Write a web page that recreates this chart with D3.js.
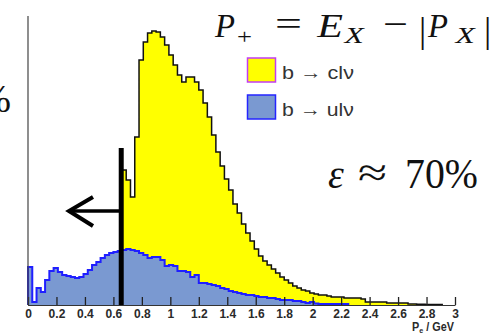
<!DOCTYPE html>
<html>
<head>
<meta charset="utf-8">
<script src="https://cdn.jsdelivr.net/npm/d3@7/dist/d3.min.js"></script>
<style>
  html, body { margin: 0; padding: 0; background: #fff; }
  svg { display: block; }
</style>
</head>
<body>
<svg id="chart" width="498" height="335"></svg>
<script>
// Histogram binning of P+ (GeV): 100 bins from 0 to 3
const pRange = [0, 3];
const nBins = 100;

// b -> c l nu (yellow), bins 0..99
const charmCounts = [
  0, 0, 0, 0, 0, 0, 0, 0, 0, 0,
  0, 0, 0, 0, 0, 0, 0, 0, 0, 0,
  0, 0, 135, 125, 108, 168, 245, 263, 272, 274,
  273, 268, 260, 250, 240, 230, 223, 228, 228, 223,
  215, 202, 188, 170, 153, 139, 126, 115, 101, 92,
  81, 72, 64, 56, 49, 44, 40, 36, 32, 28,
  25, 22, 19, 17, 15, 14, 12, 11, 10, 10,
  9, 8, 8, 8, 7, 7, 7, 7, 6, 3,
  3, 3, 3, 3, 2, 2, 2, 2, 2, 1,
  1, 0.8, 0.8, 0.6, 0.6, 0.5, 0.5, 0, 0, 0
];

// b -> u l nu (blue), bins 0..99
const upCounts = [
  38, 3, 17, 13, 25, 34, 37, 33, 30, 29,
  28, 27, 28, 31, 35, 40, 43, 47, 50, 52,
  53, 54, 55, 56, 55, 54, 52, 50, 47, 48,
  48, 45, 39, 40, 39, 34, 34, 33, 28, 30,
  22, 22, 21, 20, 19, 17, 16, 14, 13, 12,
  11, 10, 10, 9, 8, 8, 7, 7, 6, 5,
  5, 5, 4, 4, 3, 2, 3, 1.5, 1, 1,
  1, 1, 1, 1, 1, 0, 0, 0, 0, 0,
  0, 0, 0, 0, 0, 0, 0, 0, 0, 0,
  0, 0, 0, 0, 0, 0, 0, 0, 0, 0
];

const xTicks = [0, 0.2, 0.4, 0.6, 0.8, 1, 1.2, 1.4, 1.6, 1.8, 2, 2.2, 2.4, 2.6, 2.8, 3];
const legendLabels = ["b \u2192 cl\u03bd", "b \u2192 ul\u03bd"];
const cutValue = 0.655;      // P+ cut
const efficiencyText = "70%";

const svg = d3.select("#chart");
const margin = { left: 28, right: 43, top: 16, bottom: 30 };
const W = 498, H = 335;

const x = d3.scaleLinear().domain(pRange).range([margin.left, W - margin.right]);
const y = d3.scaleLinear().domain([0, 289]).range([H - margin.bottom, margin.top]);
const binW = (pRange[1] - pRange[0]) / nBins;

// Build step outline points, trimmed after the last filled bin
function stepPoints(counts) {
  let last = counts.length - 1;
  while (last > 0 && counts[last] === 0) last--;
  const pts = [[pRange[0], 0]];
  for (let i = 0; i <= last; i++) pts.push([pRange[0] + i * binW, counts[i]]);
  pts.push([pRange[0] + (last + 1) * binW, 0]);
  return pts;
}

// Stretch a text block horizontally so it spans a given width
function fitWidth(sel, x0, baseline, width) {
  const bb = sel.node().getBBox();
  const s = width / bb.width;
  sel.attr("x", 0).attr("y", 0)
    .attr("transform", `translate(${x0 - bb.x * s},${baseline}) scale(${s},1)`);
}

const area = d3.area()
  .x(d => x(d[0])).y0(y(0)).y1(d => y(d[1]))
  .curve(d3.curveStepAfter);
const line = d3.line()
  .x(d => x(d[0])).y(d => y(d[1]))
  .curve(d3.curveStepAfter);

const charmPts = stepPoints(charmCounts);
const upPts = stepPoints(upCounts);

// yellow histogram
svg.append("path").attr("d", area(charmPts)).attr("fill", "#ffff00");
svg.append("path").attr("d", line(charmPts)).attr("fill", "none")
  .attr("stroke", "#111").attr("stroke-width", 1.5);

// blue histogram drawn over it
svg.append("path").attr("d", area(upPts)).attr("fill", "#7a99d1");
svg.append("path").attr("d", line(upPts)).attr("fill", "none")
  .attr("stroke", "#1f1fff").attr("stroke-width", 2);

// axes
const xAxis = d3.axisBottom(x).tickValues(xTicks).tickSize(0).tickPadding(4)
  .tickFormat(d => String(d));
const gx = svg.append("g").attr("transform", `translate(0,${y(0)})`).call(xAxis);
gx.select(".domain").attr("stroke", "#333").attr("stroke-width", 1.2);
gx.selectAll(".tick text")
  .attr("font-family", "Liberation Sans, Arial, sans-serif")
  .attr("font-size", 12).attr("font-weight", "bold").attr("fill", "#2a2a2a");
gx.selectAll(".tick").append("line")
  .attr("y1", 0).attr("y2", -8).attr("stroke", "#222").attr("stroke-width", 1.3);

svg.append("line")
  .attr("x1", x(0)).attr("x2", x(0)).attr("y1", margin.top).attr("y2", y(0))
  .attr("stroke", "#444").attr("stroke-width", 1.2);

// axis title
const xt = svg.append("text")
  .attr("font-family", "Liberation Sans, Arial, sans-serif")
  .attr("font-size", 12).attr("font-weight", "bold").attr("fill", "#2a2a2a");
xt.append("tspan").text("P");
xt.append("tspan").attr("font-size", 8).attr("dy", 2).text("e");
xt.append("tspan").attr("dy", -2).text(" / GeV");
fitWidth(xt, 412, 331, 42);

// cut line with arrow
const cutX = x(cutValue);
svg.append("line").attr("x1", cutX).attr("x2", cutX).attr("y1", 148).attr("y2", y(0))
  .attr("stroke", "#000").attr("stroke-width", 5);
svg.append("line").attr("x1", cutX).attr("x2", 70).attr("y1", 211).attr("y2", 211)
  .attr("stroke", "#000").attr("stroke-width", 3.5);
svg.append("path").attr("d", "M93,197 L69,211 L93,226")
  .attr("fill", "none").attr("stroke", "#000").attr("stroke-width", 4)
  .attr("stroke-linejoin", "miter");

// legend
const legendColors = [["#ffff00", "#c23cf2"], ["#7a99d1", "#2424ff"]];
legendLabels.forEach((lab, i) => {
  const gy = 58 + i * 37;
  svg.append("rect").attr("x", 247.5).attr("y", gy).attr("width", 28).attr("height", 24)
    .attr("fill", legendColors[i][0]).attr("stroke", legendColors[i][1]).attr("stroke-width", 1.5);
  const t = svg.append("text")
    .attr("font-family", "Liberation Sans, Arial, sans-serif")
    .attr("font-size", 19).attr("fill", "#333").text(lab);
  fitWidth(t, 282, gy + 21, 72);
});

// math pieces placed one by one
const serif = "Liberation Serif, Times New Roman, serif";
function mathPiece(txt, x0, base, size, italic, width) {
  const t = svg.append("text")
    .attr("font-family", serif).attr("font-size", size).attr("fill", "#111")
    .attr("font-style", italic ? "italic" : "normal").text(txt);
  if (width) fitWidth(t, x0, base, width);
  else t.attr("x", x0).attr("y", base);
}

// P+ = E_X - |P_X|
mathPiece("P", 214, 37, 33, true, 21);
mathPiece("+", 237, 44, 22, false, 15);
mathPiece("=", 275, 35, 33, false, 27);
mathPiece("E", 316, 37, 33, true, 27);
mathPiece("X", 343, 43, 23, true, 22);
mathPiece("\u2212", 383, 35, 33, false, 25);
mathPiece("|", 419, 42, 36, false, 0);
mathPiece("P", 427, 37, 33, true, 21);
mathPiece("X", 454, 43, 23, true, 22);
mathPiece("|", 484, 42, 36, false, 0);

// efficiency
mathPiece("\u03b5", 328, 188, 40, true, 16);
mathPiece("\u2248", 358, 186, 40, false, 29);
mathPiece(efficiencyText, 405, 188, 42, false, 73);

// partial text at the left edge
svg.append("text").attr("x", 11).attr("y", 112).attr("text-anchor", "end")
  .attr("font-family", serif).attr("font-size", 40).attr("fill", "#111").text("%");
</script>
</body>
</html>
